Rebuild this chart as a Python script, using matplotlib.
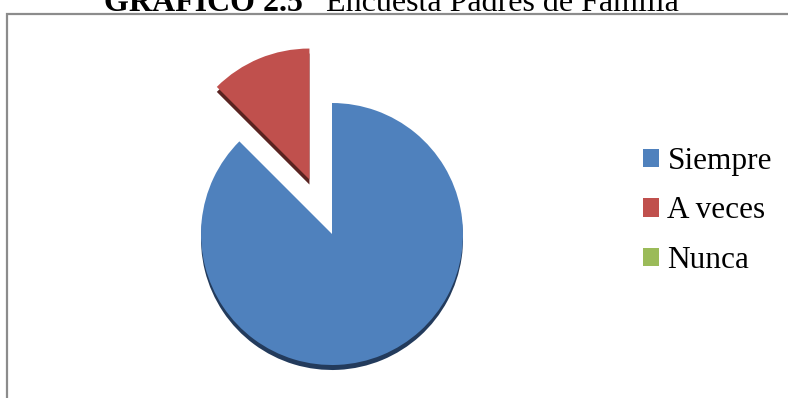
import numpy as np
import matplotlib
matplotlib.use("Agg")
from matplotlib import pyplot as plt
from matplotlib.patches import Rectangle, Patch

# survey answers (percent)
labels = ["Siempre", "A veces", "Nunca"]
values = [87.5, 12.5, 0.0]
colors = ["#4F81BD", "#C0504D", "#9BBB59"]
side_colors = ["#233b5c", "#5a2321", "#4d5e2c"]
explode = [0.0, 0.45, 0.0]

W, H = 788, 398
fig = plt.figure(figsize=(W / 100, H / 100), dpi=100)

# chart frame (runs off the right and bottom edges)
fig.patches.append(Rectangle((7 / W, -0.1), 1.2, 1.1 - 13.5 / H,
                             transform=fig.transFigure, fill=False,
                             edgecolor="#8c8c8c", linewidth=1.6))

# pie axes: square box of 400px centred on the pie
cx, cy, half, rad = 332, H - 234, 200, 131
ax = fig.add_axes([(cx - half) / W, (cy - half) / H, 2 * half / W, 2 * half / H])
lim = half / rad
ax.axis("off")

# darker copy shifted down gives the 3D depth
depth = 5 / rad
ax.pie(values, colors=side_colors, explode=explode, startangle=90,
       counterclock=False, center=(0, -depth), radius=1.0,
       wedgeprops=dict(linewidth=0))
ax.pie(values, colors=colors, explode=explode, startangle=90,
       counterclock=False, center=(0, 0), radius=1.0,
       wedgeprops=dict(linewidth=0))
ax.set_xlim(-lim, lim)
ax.set_ylim(-lim, lim)

handles = [Patch(facecolor=c, edgecolor="none") for c in colors]
fig.legend(handles, labels, loc="center left", bbox_to_anchor=(643 / W, 1 - 211 / H),
           frameon=False, prop={"family": "Liberation Serif", "size": 22.5},
           handlelength=0.52, handleheight=0.52, handletextpad=0.26,
           labelspacing=0.66, borderpad=0, borderaxespad=0)

# title, bold part then regular part
ty = 1 - 11 / H
fig.text(303 / W, ty, "GRÁFICO 2.5", fontfamily="Liberation Serif",
         fontsize=23, fontweight="bold", va="baseline", ha="right")
fig.text(326 / W, ty, "Encuesta Padres de Familia", fontfamily="Liberation Serif",
         fontsize=23, va="baseline", ha="left")

fig.savefig("out.png", dpi=100)
